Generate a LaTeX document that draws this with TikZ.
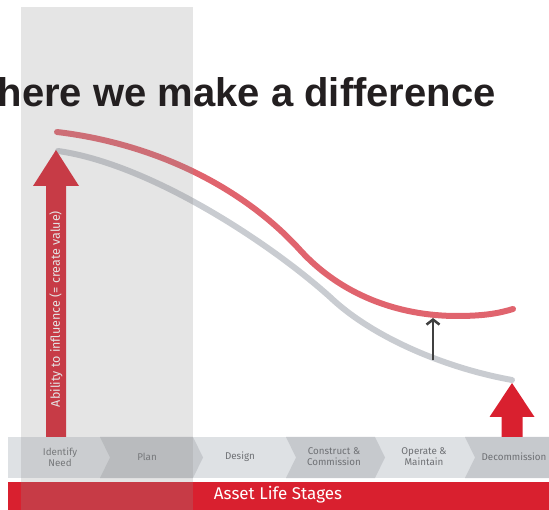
\documentclass[tikz,border=0pt]{standalone}
\usepackage{fontspec}
\setmainfont{Liberation Sans}
\newfontfamily\stagefont{Fira Sans}
\usetikzlibrary{arrows.meta}
\definecolor{lcred}{HTML}{D9202F}
\definecolor{curvered}{HTML}{E0646E}
\definecolor{curvegrey}{HTML}{C9CCD1}
\definecolor{chevlight}{HTML}{DEE1E4}
\definecolor{chevdark}{HTML}{C6C9CD}
\definecolor{stagetext}{HTML}{6E7074}
\definecolor{titletext}{HTML}{231F20}
\definecolor{panelgrey}{HTML}{919191}
\tikzset{
  stage/.style={font=\stagefont\fontsize{9.8}{11}\selectfont, text=stagetext, align=center, inner sep=0pt},
  lifecurve/.style={line width=6pt, line cap=round},
  bigarrow/.style={fill=lcred},
  chevron/.style={fill=chevdark},
  }

\begin{document}
\begin{tikzpicture}[x=1pt,y=-1pt]
  \useasboundingbox (0,0) rectangle (549,510);
  % stage band with chevrons, red bar below
  \fill[chevlight] (8,437) rectangle (549,478);
  \foreach \a/\b in {100/193, 286/375, 465/549} {
    \fill[chevron] (\a,437) -- (\b,437) -- (\b+10,457.5) -- (\b,478) -- (\a,478) -- (\a+10,457.5) -- cycle;
  }
  \fill[lcred] (8,482) rectangle (549,510);

  % the two curves
  \draw[lifecurve, curvegrey] (58,151) .. controls (150,164) and (270,243) .. (330,297)
    .. controls (372,337) and (445,368) .. (512,380);
  \draw[lifecurve, curvered] (57,132) .. controls (150,143) and (240,184) .. (300,250)
    .. controls (340,294) and (397,316) .. (457,316)
    .. controls (485,316) and (500,313) .. (513,309);

  % big arrows
  \fill[bigarrow] (56,150) -- (79,186) -- (66,186) -- (66,437) -- (46,437) -- (46,186) -- (33,186) -- cycle;
  \fill[bigarrow] (512,383) -- (534.5,417) -- (522.5,417) -- (522.5,437) -- (501.5,437) -- (501.5,417) -- (489.5,417) -- cycle;
  \node[rotate=90, font=\stagefont\fontsize{12.5}{13}\selectfont, text=white, inner sep=0pt] (influence) at (56,309) {Ability to influence (= create value)};

  % gap between the curves
  \coordinate (gap bottom) at (433,360);
  \coordinate (gap top) at (433,318);
  \draw[-{Straight Barb[length=5pt,width=13pt]}, line width=2.5pt, black!75] (gap bottom) -- (gap top);

  % stage labels
  \node[stage] (identify)   at (60,457)  {Identify\\Need};
  \node[stage] (plan)       at (147,457) {Plan};
  \node[stage] (design)     at (240,457) {Design};
  \node[stage] (construct)  at (334,457) {Construct \&\\Commission};
  \node[stage] (operate)    at (424,457) {Operate \&\\Maintain};
  \node[stage] (decommission) at (514,457) {Decommission};
  \node[anchor=base, font=\stagefont\fontsize{17}{17}\selectfont, text=white, inner sep=0pt] (life stages) at (278,499) {Asset Life Stages};

  % shaded early stages
  \fill[panelgrey, opacity=0.24] (21,7) rectangle (193,510);

  \node[anchor=base west, font=\bfseries\fontsize{40}{40}\selectfont, text=titletext, inner sep=0pt] (title) at (-2.5,107) {here we make a difference};
\end{tikzpicture}
\end{document}
